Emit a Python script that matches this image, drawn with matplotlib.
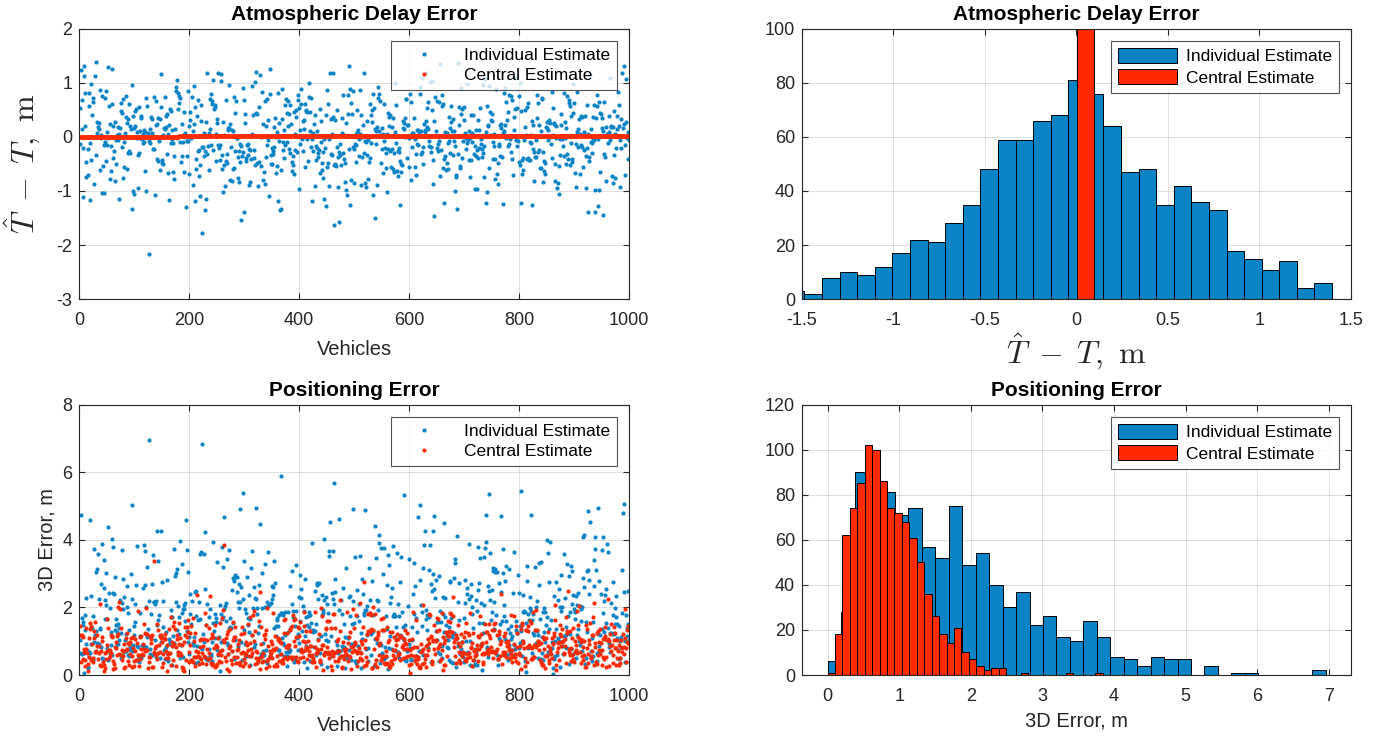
import numpy as np
import matplotlib
matplotlib.use("Agg")
import matplotlib.pyplot as plt
from matplotlib.ticker import FuncFormatter

plt.rcParams['font.family'] = ['Liberation Sans', 'DejaVu Sans']
plt.rcParams['mathtext.fontset'] = 'cm'
plt.rcParams['axes.unicode_minus'] = False

BLUE = '#0A84C6'
RED = '#FF2A00'
INK = '#262626'

n_vehicles = 1000

# --- atmospheric delay error, individual estimate (bins)
delay_edge0 = -2.255
delay_width = 0.0961
delay_counts = [1, 0, 0, 0, 1, 0, 1,
                3, 2, 8, 10, 9, 12, 17, 22, 21, 28, 35, 48, 59, 59, 66, 68,
                81, 76, 64, 47, 48, 35, 42, 36, 33, 18, 15, 11, 14, 4, 6]
# points that stand out in the top-left scatter: vehicle, value
delay_out_veh = [127, 224, 463, 473, 294, 538, 645, 952, 95, 299, 229, 365, 366,
                 687, 925, 939, 194, 449, 492, 944, 739, 770, 804, 823, 583, 664,
                 424, 19, 73, 163, 446, 361,
                 3, 53, 59, 491, 990, 232, 252, 329, 456, 518, 149, 987]
delay_out_val = [-2.16, -1.78, -1.63, -1.57, -1.53, -1.49, -1.46, -1.44, -1.33, -1.38,
                 -1.35, -1.36, -1.33, -1.33, -1.38, -1.38, -1.29, -1.27, -1.25, -1.28,
                 -1.22, -1.24, -1.22, -1.25, -1.25, -1.22, -1.19, -1.17, -1.14, -1.16,
                 -1.15, -1.18,
                 1.23, 1.29, 1.25, 1.31, 1.31, 1.18, 1.17, 1.15, 1.18, 1.18, 1.16, 1.18]

# central estimate of the delay: all vehicles in one bin
central_delay_bin = [0.002, 0.0986]
central_delay_range = [0.004, 0.016]

# --- 3D positioning error, individual estimate (bins)
pos_ind_edge0 = 0.003
pos_ind_width = 0.1879
pos_ind_counts = [6, 28, 90, 86, 81, 71, 74, 57, 52, 75,
                  49, 54, 40, 30, 37, 22, 26, 17, 15, 24,
                  17, 8, 7, 4, 8, 7, 7, 0, 4, 0,
                  1, 1, 0, 0, 0, 0, 2]
pos_ind_out_veh = [127, 224, 366, 463, 804, 745, 591, 298, 95, 990, 619, 321, 497,
                   944, 293, 3, 519, 739, 821, 925, 989, 768, 19, 194, 263, 456,
                   473, 617, 929, 645, 53, 329, 664, 538, 141, 149, 229, 629, 643,
                   546, 918, 59, 446, 952, 939, 687, 184]
pos_ind_out_val = [6.95, 6.83, 5.89, 5.68, 5.44, 5.36, 5.33, 5.38, 5.02, 5.06, 5.04,
                   4.93, 4.91, 4.93, 4.90, 4.73, 4.87, 4.74, 4.74, 4.84, 4.79, 4.71,
                   4.58, 4.58, 4.68, 4.54, 4.60, 4.66, 4.54, 4.69, 4.38, 4.48, 4.50,
                   4.42, 4.26, 4.26, 4.22, 4.26, 4.26, 4.15, 4.15, 4.02, 4.02, 4.08,
                   4.08, 4.11, 3.96]

# --- 3D positioning error, central estimate
pos_cen_edge0 = 0.0
pos_cen_width = 0.1039
pos_cen_counts = [1, 18, 62, 74, 85, 102, 100, 86, 74, 72,
                  68, 61, 50, 36, 26, 18, 14, 21, 10, 7,
                  4, 2, 3, 3, 0, 0, 1, 0, 0, 0,
                  0, 0, 1, 0, 0, 0, 1]
pos_cen_out_veh = [263]
pos_cen_out_val = [3.84]


def make_edges(edge0, width, counts):
    return edge0 + width * np.arange(len(counts) + 1)


def spread(edges, counts, fixed_vals):
    # values left over in every bin once the marked points are taken out
    fixed_hist, _ = np.histogram(fixed_vals, bins=edges)
    vals = []
    for lo, hi, c in zip(edges[:-1], edges[1:], np.array(counts) - fixed_hist):
        c = max(int(c), 0)
        vals.extend(lo + (hi - lo) * (np.arange(c) + 0.5) / max(c, 1))
    return np.array(vals)


def scramble(m, mult, shift):
    # order of the free vehicles: two modular inversions mod the next prime
    p = m + 1
    while any(p % d == 0 for d in range(2, int(p ** 0.5) + 1)):
        p += 1

    def inv(x):
        return pow(x, -1, p) if x % p else 0

    order = np.array([inv((inv(k * mult % p) + shift) % p) for k in range(p)])
    return order[order < m]


def place(fill_vals, fixed_veh, fixed_vals, mult, shift):
    free = np.setdiff1d(np.arange(1, n_vehicles + 1), fixed_veh)
    m = len(free)
    out = np.zeros(n_vehicles)
    out[free[scramble(m, mult, shift)] - 1] = fill_vals[:m]
    out[np.array(fixed_veh) - 1] = fixed_vals
    return out


vehicles = np.arange(1, n_vehicles + 1)

delay_edges = make_edges(delay_edge0, delay_width, delay_counts)
delay_ind = place(spread(delay_edges, delay_counts, delay_out_val),
                  delay_out_veh, delay_out_val, 7, 311)
delay_cen = np.linspace(central_delay_range[0], central_delay_range[1], n_vehicles)

pos_ind_edges = make_edges(pos_ind_edge0, pos_ind_width, pos_ind_counts)
pos_ind = place(spread(pos_ind_edges, pos_ind_counts, pos_ind_out_val),
                pos_ind_out_veh, pos_ind_out_val, 13, 457)
pos_cen_edges = make_edges(pos_cen_edge0, pos_cen_width, pos_cen_counts)
pos_cen = place(spread(pos_cen_edges, pos_cen_counts, pos_cen_out_val),
                pos_cen_out_veh, pos_cen_out_val, 31, 523)

fig = plt.figure(figsize=(13.87, 7.39), dpi=100)
ax_tl = fig.add_axes([0.0572, 0.595, 0.3963, 0.3664])
ax_tr = fig.add_axes([0.5782, 0.595, 0.3958, 0.3664])
ax_bl = fig.add_axes([0.0572, 0.0866, 0.3963, 0.366])
ax_br = fig.add_axes([0.5782, 0.0866, 0.3958, 0.366])

fmt = FuncFormatter(lambda v, p: '%g' % v)


def style(ax):
    for sp in ax.spines.values():
        sp.set_color(INK)
        sp.set_linewidth(0.8)
    ax.tick_params(direction='in', length=4, width=0.8, colors=INK,
                   labelsize=13, top=True, right=True)
    ax.tick_params(axis='x', pad=9)
    ax.tick_params(axis='y', pad=5)
    ax.grid(True, color=INK, alpha=0.15, linewidth=0.7)
    ax.set_axisbelow(True)
    ax.xaxis.set_major_formatter(fmt)
    ax.yaxis.set_major_formatter(fmt)


def legend(ax, **kw):
    leg = ax.legend(loc='upper right', fontsize=12.5, frameon=True, fancybox=False,
                    borderaxespad=0.7, labelspacing=0.3, **kw)
    leg.get_frame().set_edgecolor(INK)
    leg.get_frame().set_linewidth(0.8)
    return leg


MATH_LABEL = r'$\hat{T}\;-\;T,\ \mathrm{m}$'

# top-left: delay error per vehicle
ax_tl.plot(vehicles, delay_ind, 'o', color=BLUE, ms=3, mew=0, label='Individual Estimate')
ax_tl.plot(vehicles, delay_cen, 'o', color=RED, ms=3, mew=0, label='Central Estimate')
ax_tl.set_xlim(0, 1000)
ax_tl.set_ylim(-3, 2)
ax_tl.set_xticks([0, 200, 400, 600, 800, 1000])
ax_tl.set_yticks([-3, -2, -1, 0, 1, 2])
style(ax_tl)
ax_tl.set_title('Atmospheric Delay Error', fontsize=15, fontweight='bold', pad=6)
ax_tl.set_xlabel('Vehicles', fontsize=14.5, color=INK, labelpad=8)
ax_tl.set_ylabel(MATH_LABEL, fontsize=23, color=INK, labelpad=10)
legend(ax_tl, handlelength=3.0, handletextpad=0.8)

# top-right: delay error histogram
ax_tr.hist(delay_ind, bins=delay_edges, color=BLUE, edgecolor='black', linewidth=0.7,
           label='Individual Estimate')
ax_tr.hist(delay_cen, bins=central_delay_bin, color=RED, edgecolor='black', linewidth=0.7,
           label='Central Estimate')
ax_tr.set_xlim(-1.5, 1.5)
ax_tr.set_ylim(0, 100)
ax_tr.set_xticks([-1.5, -1, -0.5, 0, 0.5, 1, 1.5])
ax_tr.set_yticks([0, 20, 40, 60, 80, 100])
style(ax_tr)
ax_tr.set_title('Atmospheric Delay Error', fontsize=15, fontweight='bold', pad=6)
ax_tr.set_xlabel(MATH_LABEL, fontsize=23, color=INK, labelpad=2)
legend(ax_tr, handlelength=3.4, handleheight=0.95, handletextpad=0.5)

# bottom-left: positioning error per vehicle
ax_bl.plot(vehicles, pos_ind, 'o', color=BLUE, ms=3, mew=0, label='Individual Estimate')
ax_bl.plot(vehicles, pos_cen, 'o', color=RED, ms=3, mew=0, label='Central Estimate')
ax_bl.set_xlim(0, 1000)
ax_bl.set_ylim(0, 8)
ax_bl.set_xticks([0, 200, 400, 600, 800, 1000])
ax_bl.set_yticks([0, 2, 4, 6, 8])
style(ax_bl)
ax_bl.set_title('Positioning Error', fontsize=15, fontweight='bold', pad=6)
ax_bl.set_xlabel('Vehicles', fontsize=14.5, color=INK, labelpad=8)
ax_bl.set_ylabel('3D Error, m', fontsize=14.5, color=INK)
legend(ax_bl, handlelength=3.0, handletextpad=0.8)

# bottom-right: positioning error histogram
ax_br.hist(pos_ind, bins=pos_ind_edges, color=BLUE, edgecolor='black', linewidth=0.7,
           label='Individual Estimate')
ax_br.hist(pos_cen, bins=pos_cen_edges, color=RED, edgecolor='black', linewidth=0.7,
           label='Central Estimate')
ax_br.set_xlim(-0.357, 7.31)
ax_br.set_ylim(0, 120)
ax_br.set_xticks(range(8))
ax_br.set_yticks([0, 20, 40, 60, 80, 100, 120])
style(ax_br)
ax_br.set_title('Positioning Error', fontsize=15, fontweight='bold', pad=6)
ax_br.set_xlabel('3D Error, m', fontsize=14.5, color=INK, labelpad=5)
legend(ax_br, handlelength=3.4, handleheight=0.95, handletextpad=0.5)

fig.savefig('out.png', dpi=100)
